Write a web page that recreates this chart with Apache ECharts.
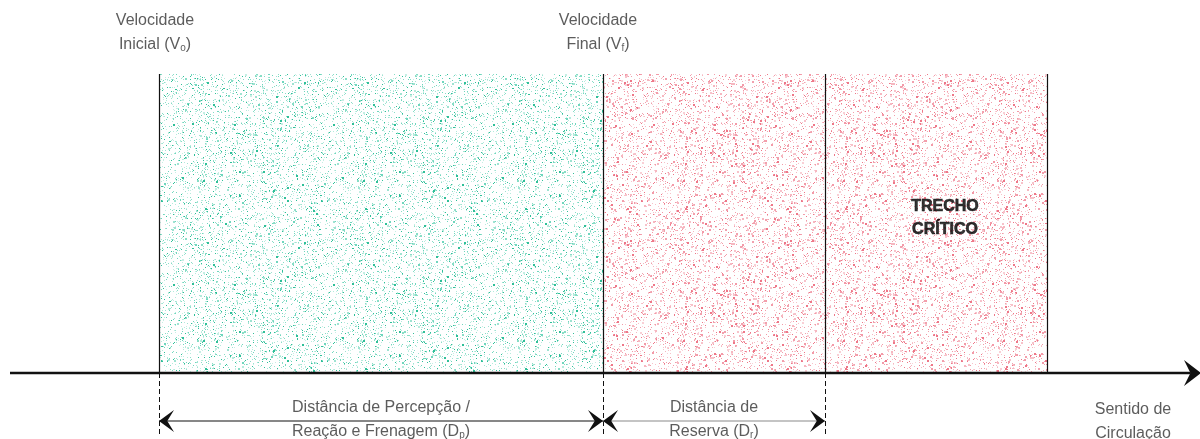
<!DOCTYPE html>
<html>
<head>
<meta charset="utf-8">
<script src="https://cdn.jsdelivr.net/npm/echarts@6/dist/echarts.min.js"></script>
<style>html,body{margin:0;padding:0;background:#fff;}#c{width:1200px;height:439px;}</style>
</head>
<body>
<div id="c"></div>
<script>
// ---- diagram data (horizontal positions in diagram units, 0..1200) ----
const zoneStart = [159, 603, 825];
const zoneEnd = [603, 825, 1047];
const zoneKind = ['green', 'red', 'red'];
const edges = [159, 603, 825, 1047];
const dashedEdges = [159, 603, 825];
const zoneTop = 74;
const roadY = 373;
const roadStart = 10;
const roadEnd = 1201;
const dimY = 421;
const dashBottom = 437;
const dimFrom = [159, 603];
const dimTo = [603, 825];
const labelTexts = [
  'Velocidade\nInicial (V{s|o})',
  'Velocidade\nFinal (V{s|f})',
  'Distância de Percepção /\nReação e Frenagem (D{s|p})',
  'Distância de\nReserva (D{s|r})',
  'Sentido de\nCirculação'
];
const labelX = [155, 598, 381, 714, 1133];
const labelY = [33, 33, 420, 420, 422];
const criticalText = 'TRECHO\nCRÍTICO';
const criticalX = 945;
const criticalY = 218;

// ---- stipple textures (deterministic hash, visual texture only) ----
function h(i) { const x = Math.sin(i * 12.9898 + 78.233) * 43758.5453; return x - Math.floor(x); }
function makePattern(colors, count, size, bigShare) {
  const c = document.createElement('canvas');
  c.width = size; c.height = size;
  const g = c.getContext('2d');
  g.fillStyle = '#ffffff';
  g.fillRect(0, 0, size, size);
  for (let i = 0; i < count; i++) {
    const x = Math.floor(h(i * 3 + 1) * size);
    const y = Math.floor(h(i * 3 + 2) * size);
    const col = colors[Math.floor(h(i * 3 + 3) * colors.length)];
    const big = h(i * 7 + 5) < bigShare;
    g.fillStyle = col;
    g.fillRect(x, y, big ? 2 : 1, big ? 2 : 1);
  }
  return c;
}
const greenPat = makePattern(['#2fbf98', '#6fd6bd', '#9fe3d2', '#c5efe4', '#88ddc6', '#b5ebdc'], 3400, 160, 0.04);
const redPat = makePattern(['#ee7788', '#f39aa8', '#f6b7c0', '#f9d0d6', '#f2a0ad', '#f7c2ca'], 3300, 160, 0.14);

const chart = echarts.init(document.getElementById('c'), null, { renderer: 'canvas' });

const baseFont = '"Liberation Sans", Arial, sans-serif';
const rich = {
  s: { fontSize: 10, fontFamily: baseFont, color: '#333', padding: [7, 0, 0, 0] }
};

chart.setOption({
  animation: false,
  backgroundColor: '#ffffff',
  grid: { left: 0, right: 0, top: 0, bottom: 0 },
  xAxis: { type: 'value', min: 0, max: 1200, show: false },
  yAxis: { type: 'value', min: 0, max: 439, inverse: true, show: false },
  series: [
    {
      type: 'custom',
      name: 'zones',
      silent: true,
      data: zoneStart.map((s, i) => [s, zoneEnd[i], i]),
      renderItem: function (params, api) {
        const p0 = api.coord([api.value(0), zoneTop]);
        const p1 = api.coord([api.value(1), roadY]);
        const kind = zoneKind[api.value(2)];
        return {
          type: 'rect',
          shape: { x: p0[0], y: p0[1], width: p1[0] - p0[0], height: p1[1] - p0[1] },
          style: { fill: { image: kind === 'green' ? greenPat : redPat, repeat: 'repeat' } }
        };
      }
    },
    {
      type: 'custom',
      name: 'edges',
      silent: true,
      data: edges.map(e => [e]),
      renderItem: function (params, api) {
        const a = api.coord([api.value(0), zoneTop]);
        const b = api.coord([api.value(0), roadY]);
        return { type: 'line', shape: { x1: a[0] + 0.5, y1: a[1], x2: b[0] + 0.5, y2: b[1] }, style: { stroke: '#111', lineWidth: 1.2 } };
      }
    },
    {
      type: 'custom',
      name: 'dashes',
      silent: true,
      data: dashedEdges.map(e => [e]),
      renderItem: function (params, api) {
        const a = api.coord([api.value(0), roadY]);
        const b = api.coord([api.value(0), dashBottom]);
        return { type: 'line', shape: { x1: a[0] + 0.5, y1: a[1], x2: b[0] + 0.5, y2: b[1] }, style: { stroke: '#111', lineWidth: 1, lineDash: [5, 3] } };
      }
    },
    {
      type: 'custom',
      name: 'road',
      silent: true,
      data: [[roadStart, roadEnd]],
      renderItem: function (params, api) {
        const a = api.coord([api.value(0), roadY]);
        const b = api.coord([api.value(1), roadY]);
        const L = 17, W = 13, n = 0.62;
        return {
          type: 'group',
          children: [
            { type: 'line', shape: { x1: a[0], y1: a[1], x2: b[0] - L * 0.6, y2: b[1] }, style: { stroke: '#111', lineWidth: 2.6 } },
            { type: 'polygon', shape: { points: [[b[0], b[1]], [b[0] - L, b[1] - W], [b[0] - L * n, b[1]], [b[0] - L, b[1] + W]] }, style: { fill: '#111' } }
          ]
        };
      }
    },
    {
      type: 'custom',
      name: 'dimensions',
      silent: true,
      data: dimFrom.map((f, i) => [f, dimTo[i], i]),
      renderItem: function (params, api) {
        const a = api.coord([api.value(0), dimY]);
        const b = api.coord([api.value(1), dimY]);
        const idx = api.value(2);
        const L = 15, W = 11, n = 0.55;
        return {
          type: 'group',
          children: [
            { type: 'line', shape: { x1: a[0], y1: a[1], x2: b[0], y2: b[1] }, style: { stroke: idx === 0 ? '#111' : '#8a8a8a', lineWidth: 1.2 } },
            { type: 'polygon', shape: { points: [[a[0], a[1]], [a[0] + L, a[1] - W], [a[0] + L * n, a[1]], [a[0] + L, a[1] + W]] }, style: { fill: '#111' } },
            { type: 'polygon', shape: { points: [[b[0], b[1]], [b[0] - L, b[1] - W], [b[0] - L * n, b[1]], [b[0] - L, b[1] + W]] }, style: { fill: '#111' } }
          ]
        };
      }
    },
    {
      type: 'scatter',
      name: 'labels',
      silent: true,
      symbolSize: 0,
      data: labelTexts.map((t, i) => ({ value: [labelX[i], labelY[i]], label: { formatter: t } })),
      label: {
        show: true,
        position: 'inside',
        align: 'center',
        verticalAlign: 'middle',
        fontFamily: baseFont,
        fontSize: 16,
        lineHeight: 24,
        color: '#333',
        rich: rich
      }
    },
    {
      type: 'scatter',
      name: 'critical',
      silent: true,
      symbolSize: 0,
      data: [{ value: [criticalX, criticalY], label: { formatter: criticalText } }],
      label: {
        show: true,
        position: 'inside',
        align: 'center',
        verticalAlign: 'middle',
        fontFamily: baseFont,
        fontSize: 16,
        fontWeight: 'bold',
        lineHeight: 23,
        color: '#000',
        textBorderColor: '#000',
        textBorderWidth: 0.6
      }
    }
  ]
});
</script>
</body>
</html>
